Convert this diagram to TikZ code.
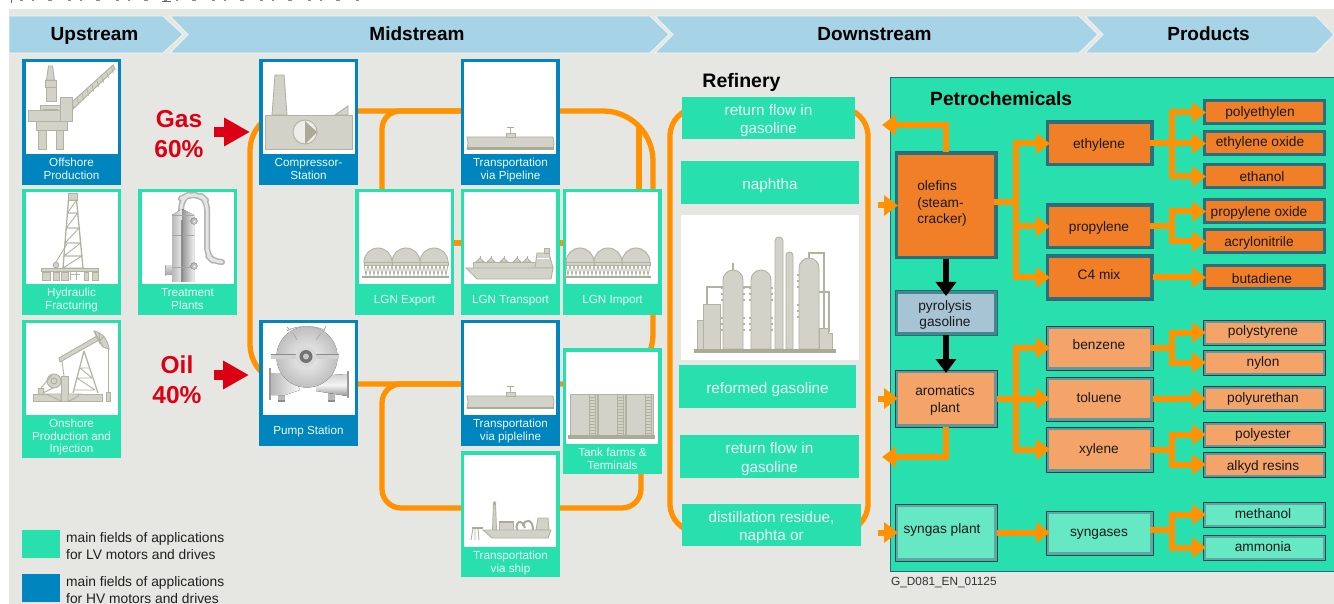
\documentclass[tikz,border=0pt]{standalone}
\usepackage{fontspec}
\setmainfont{Liberation Sans}
\usetikzlibrary{arrows.meta,calc}
\pgfdeclarelayer{bglayer}
\pgfdeclarelayer{pipes}
\pgfsetlayers{bglayer,pipes,main}
\definecolor{bgc}{HTML}{E6E7E2}
\definecolor{hdr}{HTML}{A6D4E6}
\definecolor{hdredge}{HTML}{F2F5F3}
\definecolor{lv}{HTML}{28DFAE}
\definecolor{hv}{HTML}{0085BF}
\definecolor{pipec}{HTML}{FF9200}
\definecolor{redc}{HTML}{DC0014}
\definecolor{labelc}{HTML}{EAFBF7}
\definecolor{iconf}{HTML}{D2D2C8}
\definecolor{iconl}{HTML}{B2B2A0}
\definecolor{iconb}{HTML}{AAAA96}
\definecolor{fillO}{HTML}{F07F28}\definecolor{bandO}{HTML}{2A7080}\definecolor{edgeO}{HTML}{2A6A7A}
\definecolor{fillL}{HTML}{F4A468}\definecolor{bandL}{HTML}{5C9AA0}\definecolor{edgeL}{HTML}{23404A}
\definecolor{fillB}{HTML}{A6C4D4}\definecolor{bandB}{HTML}{3E8A8E}\definecolor{edgeB}{HTML}{2A6A7A}
\definecolor{fillT}{HTML}{66E8C4}\definecolor{bandT}{HTML}{5DA8A0}\definecolor{edgeT}{HTML}{23484F}
\tikzset{
  rectnode/.style={rectangle,inner sep=0pt,outer sep=0pt,anchor=north west},
  tilelabel/.style={text=labelc,align=center,inner sep=0pt,font=\fontsize{11.7}{12}\selectfont},
  reflabel/.style={text=labelc,align=center,inner sep=0pt,font=\fontsize{15.3}{18.5}\selectfont},
  ptext/.style={text=black!90,align=center,inner sep=0pt,font=\fontsize{13.7}{16.5}\selectfont},
  hdrtext/.style={font=\fontsize{19}{22}\bfseries\selectfont,text=black,inner sep=0pt,anchor=base},
  band/.style={fill=hdr,draw=hdredge,line width=.8pt},
  bigred/.style={text=redc,align=center,inner sep=0pt,font=\fontsize{24.5}{30}\bfseries\selectfont},
  legendtext/.style={text=black!88,align=left,anchor=west,inner sep=0pt,font=\fontsize{13.8}{17}\selectfont},
  pipe/.style={draw=pipec,line width=5.3pt},
  stem/.style={draw=pipec,line width=6pt,line cap=rect},
  flow/.style={draw=pipec,line width=6pt,-{Triangle[length=14pt,width=20pt]}},
  blackflow/.style={draw=black,line width=6pt,-{Triangle[length=14pt,width=20pt]}},
  redarrow/.style={draw=redc,line width=10pt,-{Triangle[length=26pt,width=27pt]}},
  icon/.style={fill=iconf,draw=iconl,line width=.9pt},
  iconthin/.style={draw=iconl,line width=.9pt},
  icondark/.style={fill=iconb,draw=none},
}
\newcommand\tile[8]{% name,x1,y1,y2,colour,whitex,whitey,label
  \node[rectnode,fill=#5,minimum width=99pt,minimum height={(#4-#3)*1pt}] (#1) at (#2,#3) {};
  \fill[white] (#6,#7) rectangle ++(92,92);
  \pgfmathsetmacro\tly{(#7+92+#4)/2+1.5}
  \node[tilelabel] (#1-label) at ({#2+49.5},\tly) {\strut #8\strut};
}
\newcommand\refbox[6]{% name,x1,y1,x2,y2,text
  \node[rectnode,fill=lv,minimum width={(#4-#2)*1pt},minimum height={(#5-#3)*1pt}] (#1) at (#2,#3) {};
  \node[reflabel] (#1-label) at ([yshift=-3pt]#1.center) {\strut #6\strut};
}
\def\pinset{3}
\newcommand\procbox[9]{% name,x1,y1,x2,y2,palette,textx,texty,text
  \node[rectnode,fill=band#6,draw=edge#6,line width=1pt,minimum width={(#4-#2)*1pt},minimum height={(#5-#3)*1pt}] (#1) at (#2,#3) {};
  \fill[fill#6] ({#2+\pinset},{#3+\pinset}) rectangle ({#4-\pinset},{#5-\pinset});
  \node[ptext] (#1-label) at (#7,{#8+1.5}) {\strut #9\strut};
}
\newcommand\domeshape[5][icon]{% style,x1,x2,ytop,ybottom
  \pgfmathsetmacro\dr{((#3)-(#2))/2}
  \pgfmathsetmacro\dm{((#3)+(#2))/2}
  \draw[#1] ({#2},#5) -- ({#2},{#4+\dr}) .. controls ({#2},{#4+.45*\dr}) and ({\dm-.55*\dr},#4) .. (\dm,#4)
     .. controls ({\dm+.55*\dr},#4) and ({#3},{#4+.45*\dr}) .. ({#3},{#4+\dr}) -- ({#3},#5) -- cycle;
}
\newcommand\lngtanks{%
  \foreach \cx in {378,406,434}{
    \domeshape{\cx-14}{\cx+14}{248}{263}
    \draw[icon] ({\cx-14},262) rectangle ({\cx+14},265);
    \foreach \k in {-14,-10,-6,-2,2,6,10}{
      \draw[iconthin,line width=.8pt] ({\cx+\k},265) -- ({\cx+\k+2},275) -- ({\cx+\k+4},265);
    }
  }
  \draw[iconb,line width=1.3pt] (362,277) -- (449,277);
}
\newcommand\pipelineicon{%
  \draw[icon] (467,137) -- (553,137) -- (554,143) -- (553,149) -- (467,149) -- (468,143) -- cycle;
  \fill[iconb] (467,147.5) rectangle (554,150);
  \draw[icon] (506,133) rectangle (515,137);
  \draw[iconthin] (510.5,128) -- (510.5,133);
  \draw[iconb,line width=1.2pt] (507,127.5) -- (514,127.5);
}
\begin{document}
\begin{tikzpicture}[x=1pt,y=-1pt]
\useasboundingbox (0,0) rectangle (1334,604);
\begin{pgfonlayer}{bglayer}
  \fill[white] (0,0) rectangle (1334,604);
  \fill[bgc] (9,9) rectangle (1334,604);
  % cropped line of text at the very top
  \draw[black!45,line width=1pt,dash pattern=on 3pt off 9pt on 2pt off 14pt on 4pt off 16pt] (20,.5) -- (362,.5);
  \draw[black!60,line width=1pt] (11.5,0) -- (11.5,3);
  \draw[black!60,line width=1pt] (162,2) -- (171,2);
\end{pgfonlayer}
% ---- header
\draw[band] (9,16) -- (163,16) -- (183,34.5) -- (163,53) -- (9,53) -- cycle;
\draw[band] (170,16) -- (650,16) -- (669,34.5) -- (650,53) -- (170,53) -- (188,34.5) -- cycle;
\draw[band] (655,16) -- (1079,16) -- (1098,34.5) -- (1079,53) -- (655,53) -- (673,34.5) -- cycle;
\draw[band] (1085,16) -- (1316,16) -- (1334,34.5) -- (1316,53) -- (1085,53) -- (1103,34.5) -- cycle;
\node[hdrtext] (hup) at (94.5,40.5) {Upstream};
\node[hdrtext] (hmid) at (417,40.5) {Midstream};
\node[hdrtext] (hdown) at (874.5,40.5) {Downstream};
\node[hdrtext] (hprod) at (1208.5,40.5) {Products};
% ---- tiles
\tile{off}{22}{59}{185}{hv}{26}{62}{Offshore\\Production}
\tile{hyd}{22}{189}{315}{lv}{26}{192}{Hydraulic\\Fracturing}
\tile{ons}{22}{320}{458}{lv}{26}{323}{Onshore\\Production and\\Injection}
\tile{tre}{138}{189}{315}{lv}{142}{192}{Treatment\\Plants}
\tile{comp}{259}{59}{185}{hv}{263}{62}{Compressor-\\Station}
\tile{pump}{259}{320}{446}{hv}{263}{323}{Pump Station}
\tile{expo}{355}{189}{315}{lv}{359}{192}{LGN Export}
\tile{tvp}{461}{59}{185}{hv}{464}{62}{Transportation\\via Pipeline}
\tile{ltr}{461}{189}{315}{lv}{464}{192}{LGN Transport}
\tile{impo}{563}{189}{315}{lv}{566}{192}{LGN Import}
\tile{tvl}{461}{320}{446}{hv}{464}{323}{Transportation\\via pipleline}
\tile{tank}{563}{348}{474}{lv}{566}{352}{Tank farms \&\\Terminals}
\tile{ship}{461}{451}{577}{lv}{464}{455}{Transportation\\via ship}
% ---- pipes behind the tiles
\begin{pgfonlayer}{pipes}
  \draw[pipe,rounded corners=40pt] (comp.center |- 0,111) -- (250,111) -- (250,384) -- (pump.center |- 0,384);
  \draw[pipe,rounded corners=50pt] (comp.center |- 0,111) -- (653,111) -- (653,384) -- (pump.center |- 0,384);
  \draw[pipe,rounded corners=18pt] (382,0 |- expo.north) -- (382,111) -- (tvp.center |- 0,111);
  \draw[pipe] (639,0 |- impo.north) -- (639,126);
  \draw[pipe,rounded corners=19pt] (tvl.center |- 0,384) -- (382,384) -- (382,508) -- (641,508) -- (641,0 |- tank.south);
  \draw[pipe] (expo.center |- 0,243) -- (impo.center |- 0,243);
  \node[rectnode,draw=pipec,line width=5.3pt,rounded corners=28pt,minimum width=198pt,minimum height=424pt] (refloop) at (670,108) {};
\end{pgfonlayer}
% ---- offshore icon
\draw[icon] (48.5,66) -- (52.5,66) -- (54.5,80) -- (46.5,80) -- cycle;
\draw[icon] (45.5,80) rectangle (56,87);
\draw[icon] (46.5,87) rectangle (56,101);
\draw[icon] (72,102) -- (113,65) -- (115,69) -- (72,110) -- cycle;
\foreach \t in {0,.12,...,1}{\draw[iconl,line width=.7pt] ({72+41*\t},{102-37*\t}) -- ({74+41*\t},{109-37*\t});}
\draw[icon] (40,105) rectangle (60,111);
\draw[icon] (28,110) rectangle (60,121);
\draw[icon] (60,97) rectangle (72,121);
\draw[iconl,line width=1pt] (43,110) -- (58,110);
\draw[icon] (36,121) rectangle (67,130);
\draw[icon] (38,130) rectangle (46,149);
\draw[icon] (56,130) rectangle (63.5,149);
% ---- hydraulic icon
\draw[icon] (68,193) rectangle (77,200);
\draw[iconthin,line width=1.3pt] (68.5,200) -- (63,268) (76.5,200) -- (83,268);
\foreach \ya/\yb in {200/213,213/228,228/243,243/256,256/268}{
  \pgfmathsetmacro\fa{(\ya-200)/68*5.5}\pgfmathsetmacro\fb{(\yb-200)/68*5.5}
  \pgfmathsetmacro\ga{(\ya-200)/68*6.5}\pgfmathsetmacro\gb{(\yb-200)/68*6.5}
  \draw[iconthin] ({68.5-\fa},\ya) -- ({76.5+\ga},\ya) -- ({68.5-\fb},\yb) -- ({76.5+\gb},\yb);
}
\draw[iconthin] (56,262) -- (67,244);
\draw[icon] (56,265) circle[radius=2.8];
\draw[icon] (41,268) rectangle (98,271);
\foreach \xa/\xb in {42/50,53/59,61/68,84/88,92/98}{\draw[icon] (\xa,272) rectangle (\xb,280);}
\draw[iconthin] (70,272) -- (70,280) (76,272) -- (76,280) (70,274) -- (80,274);
% ---- onshore icon
\draw[icon] (33,394) rectangle (102,401);
\draw[iconthin,line width=1.2pt] (84,351) -- (73,393) (84,351) -- (98,393);
\draw[iconthin] (80,368) -- (89,368) (77,378) -- (92,378) (80,368) -- (92,378) (77,378) -- (95,390) (74,390) -- (95,390);
\draw[icon] (59,358) -- (97,336) -- (99,340) -- (60,362) -- cycle;
\draw[icon] (94,331) .. controls (103,333) and (108,340) .. (109,349) -- (103,347) -- (98,340) -- cycle;
\draw[iconthin] (94,331) -- (103,347) (99,332) -- (100,344) (104,336) -- (99,342);
\draw[iconthin] (108.5,348) -- (108.5,392);
\draw[icon] (106.5,392) rectangle (110.5,401);
\draw[iconthin] (62,361) -- (64,376);
\draw[icon] (61,376) rectangle (68,401);
\draw[icon] (54,381) circle[radius=7];
\draw[iconthin] (54,381) circle[radius=3];
\draw[iconthin] (41,388) -- (52,375) (43,393) -- (53,388);
\draw[icon] (38,388) rectangle (43,394);
\draw[icon] (45,394) .. controls (52,396) and (58,400) .. (61,401) -- (61,394) -- cycle;
\draw[icon] (68,394) -- (80,394) .. controls (76,398) and (72,400) .. (68,401) -- cycle;
% ---- treatment icon
\draw[black!30,line width=6pt,line join=round,rounded corners=8pt] (181,212) -- (182,198) -- (188,195) -- (200,195) -- (207,201) -- (207,255) -- (214,262) -- (221,262);
\draw[black!10,line width=3pt,line join=round,rounded corners=8pt] (181,212) -- (182,198) -- (188,195) -- (200,195) -- (207,201) -- (207,255) -- (214,262) -- (221,262);
\fill[left color=black!28,right color=black!8] (172,215) -- (182,209) -- (182,282) -- (172,282) -- cycle;
\fill[left color=black!42,right color=black!6] (182,209) -- (194,215) -- (194,282) -- (182,282) -- cycle;
\draw[black!35,line width=.6pt] (172,215) -- (194,215) (172,235) -- (194,235);
\draw[black!45,line width=1.2pt] (182,220) -- (182,282);
\fill[top color=black!15,bottom color=black!35] (165,266) rectangle (172,275);
\draw[black!35,line width=.8pt] (165,265) -- (165,276);
\draw[black!35,line width=.6pt] (172,267) -- (194,267);
\fill[inner color=black!10,outer color=black!35] (194,221) circle[radius=3.4];
\fill[inner color=black!10,outer color=black!35] (194,266) circle[radius=3.4];
% ---- compressor icon
\draw[icon] (272,115) -- (275,75) -- (284,75) -- (287,115) -- cycle;
\draw[icon] (335,115) -- (348,106) -- (348,115) -- cycle;
\draw[icon] (265,115) rectangle (352,149);
\draw[fill=white!60!iconf,draw=iconl,line width=.9pt] (305,132) circle[radius=12];
\fill[iconb] (305,121) -- (317,132) -- (305,144) -- cycle;
% ---- pump icon
\fill[black!28] (278,390) rectangle (285,401);
\fill[black!28] (328,390) rectangle (335,401);
\draw[black!45,line width=1.4pt] (278,401) -- (285,401) (328,401) -- (335,401);
\fill[left color=black!28,right color=black!3] (271,373) -- (292,373) -- (300,390) -- (285,395) -- (271,395) -- cycle;
\draw[black!40,line width=1.5pt] (270,368) -- (270,400);
\fill[top color=black!18,bottom color=black!40,middle color=black!4] (316,376) -- (347,374) -- (347,396) -- (316,391) -- cycle;
\draw[black!40,line width=1.5pt] (348,371) -- (348,398);
\fill[inner color=black!5,outer color=black!25] (307,357) circle[radius=30.5];
\draw[black!32,line width=.9pt] (293,333) -- (297,340) (321,333) -- (316,340);
\draw[black!32,line width=.9pt] (287,331) .. controls (295,325) and (318,325) .. (325,331);
\draw[black!32,line width=.9pt] (290,330) -- (287,327) (324,330) -- (326,326);
\fill[black!18] (271,354) rectangle (339,358.5);
\draw[black!45,line width=.7pt] (271,354) -- (339,354);
\fill[black!15] (306,356.5) circle[radius=10.5];
\fill[black!55] (306,356.5) circle[radius=6.5];
\fill[black!22] (306,356.5) circle[radius=3];
% ---- pipeline icons
\pipelineicon
\begin{scope}[shift={(0,259)}]\pipelineicon\end{scope}
% ---- LNG tanks
\begin{scope}\lngtanks\end{scope}
\begin{scope}[shift={(202,0)}]\lngtanks\end{scope}
% ---- LNG carrier
\draw[icon] (473,262) rectangle (535,268);
\foreach \sx in {480,491,504,517,527}{\draw[icon] ({\sx-4},262) -- (\sx,258) -- ({\sx+4},262) -- cycle; \draw[iconthin] (\sx,258) -- (\sx,256);}
\draw[icon] (535,268) -- (537,253) -- (549,253) -- (553,268) -- cycle;
\draw[white,line width=.8pt] (537,258) -- (549,258);
\draw[icon] (544,248) rectangle (549,253);
\draw[icon] (466,268) -- (553,268) -- (551,279) -- (477,279) -- cycle;
% ---- tank farm
\foreach \tx in {570,598,626}{
  \draw[icon] (\tx,394) rectangle ({\tx+27},435);
  \draw[iconthin,line width=.6pt] ({\tx+19},394) -- ({\tx+19},435) ({\tx+25},394) -- ({\tx+25},435);
  \foreach \ry in {397,400,...,433}{\draw[iconthin,line width=.5pt] ({\tx+19},\ry) -- ({\tx+25},\ry);}
}
\fill[iconb] (568,435) rectangle (655,439);
% ---- drill ship
\draw[icon] (492.5,530) -- (493.5,504) -- (495.5,504) -- (496.5,530) -- cycle;
\fill[iconb] (494.5,503) circle[radius=1.8];
\draw[icon] (499,521) rectangle (513,530);
\fill[iconb] (499,521) rectangle (513,523);
\draw[iconb,line width=2pt] (517,530) .. controls (515,520) and (522,519) .. (525,528) (523,526) .. controls (525,518) and (533,519) .. (533,530);
\draw[icon] (536,530) -- (538,518) -- (548,518) -- (549,530) -- cycle;
\draw[icon] (483,530) -- (551,530) -- (548,538) -- (492,538) -- cycle;
\draw[iconb,line width=1.4pt] (472,528) -- (483,528);
\draw[iconthin] (473,528) -- (471,540) (478,528) -- (479,540) (475,528) -- (475,540);
% ---- gas/oil
\node[bigred] (gas) at (179,134.5) {Gas\\60\%};
\node[bigred] (oil) at (177,379.5) {Oil\\40\%};
\coordinate (gastail) at (214,132);
\coordinate (oiltail) at (214,375);
\draw[redarrow] (gastail) -- ([xshift=-9pt]comp.west |- gastail);
\draw[redarrow] (oiltail) -- ([xshift=-10pt]pump.west |- oiltail);
% ---- legend
\node[rectnode,fill=lv,minimum width=38pt,minimum height=28pt] (legLV) at (22,530) {};
\node[rectnode,fill=hv,minimum width=38pt,minimum height=28pt] (legHV) at (22,574) {};
\node[legendtext] (legLVt) at (66,546) {main fields of applications\\for LV motors and drives};
\node[legendtext] (legHVt) at (66,590) {main fields of applications\\for HV motors and drives};
% ---- refinery
\node[font=\fontsize{19.5}{24}\bfseries\selectfont,inner sep=0pt,anchor=base] (refi) at (741.5,87.5) {Refinery};
\refbox{rf1}{682}{97}{855}{139}{return flow in\\gasoline}
\refbox{rf2}{681}{161}{859}{204}{naphtha}
\fill[white] (681,215) rectangle (859,360);
\refbox{rf3}{679}{365}{856}{408}{reformed gasoline}
\refbox{rf4}{680}{435}{859}{478}{return flow in\\gasoline}
\refbox{rf5}{682}{504}{861}{546}{distillation residue,\\naphta or}
% refinery icon
\draw[iconthin,line width=1.4pt] (707,304) -- (707,287) -- (723,287);
\draw[icon] (697,320) rectangle (704,349);
\draw[icon] (703,304) rectangle (720,349);
\draw[iconthin,line width=1.4pt] (733,263) -- (733,272);
\domeshape{723}{743}{270}{349}
\domeshape{751}{771}{270}{349}
\draw[iconthin,line width=1.4pt] (743,287) -- (751,287);
\foreach \fy in {288,294,300,318,324,330}{\draw[iconl,line width=1.6pt] (721,\fy) -- (723,\fy) (743,\fy) -- (745,\fy) (749,\fy) -- (751,\fy) (771,\fy) -- (773,\fy);}
\domeshape{775}{783}{237}{349}
\domeshape{786}{793}{252}{349}
\draw[iconthin,line width=1.4pt] (809,258) -- (809,253) -- (824,253) -- (824,328);
\draw[iconthin,line width=1.4pt] (819,292) -- (829,292) -- (829,332);
\domeshape{799}{819}{258}{349}
\foreach \fy in {275,281,287,305,311,317}{\draw[iconl,line width=1.6pt] (797,\fy) -- (799,\fy);}
\draw[icon] (819,328) -- (828,328) -- (828,333) -- (832,333) -- (832,349) -- (819,349) -- cycle;
\fill[iconb] (694,349) rectangle (836,353);
% ---- petrochemicals panel
\node[rectnode,fill=lv,draw=edgeO,line width=1pt,minimum width=446pt,minimum height=493pt] (panel) at (890,78) {};
\node[font=\fontsize{19.2}{22}\bfseries\selectfont,inner sep=0pt,anchor=base west] (petro) at (930,106) {Petrochemicals};
\def\pinset{3}
\procbox{olef}{895}{152}{997}{259}{O}{942}{202.5}{\begin{tabular}{@{}l@{}}olefins\\(steam-\\cracker)\end{tabular}}
\procbox{pyro}{895}{291}{997}{335}{B}{945}{313.5}{pyrolysis\\gasoline}
\procbox{arom}{895}{370}{997}{427}{L}{945}{399}{aromatics\\plant}
\procbox{syng}{895}{504}{997}{561}{T}{942}{528.5}{syngas plant}
\procbox{eth}{1046}{121}{1153}{166}{O}{1099}{144}{ethylene}
\procbox{prop}{1046}{204}{1153}{249}{O}{1099}{227}{propylene}
\procbox{cfour}{1046}{255}{1153}{300}{O}{1099}{275}{C4 mix}
\procbox{benz}{1046}{326}{1153}{370}{L}{1099}{345}{benzene}
\procbox{tol}{1046}{377}{1153}{421}{L}{1099}{398}{toluene}
\procbox{xyl}{1046}{427}{1153}{472}{L}{1099}{449}{xylene}
\procbox{syn}{1046}{511}{1153}{555}{T}{1099}{532}{syngases}
\def\pinset{2.5}
\procbox{pe}{1203}{100}{1325}{125}{O}{1260}{111.5}{polyethylen}
\procbox{eo}{1203}{131}{1325}{156}{O}{1260}{141.5}{ethylene oxide}
\procbox{eol}{1203}{164}{1325}{189}{O}{1262}{176.5}{ethanol}
\procbox{po}{1203}{199}{1325}{224}{O}{1259}{211.5}{propylene oxide}
\procbox{acr}{1203}{229}{1325}{254}{O}{1259}{241.5}{acrylonitrile}
\procbox{bu}{1203}{265}{1325}{290}{O}{1262}{278.5}{butadiene}
\procbox{pst}{1203}{320}{1325}{345}{L}{1263}{331}{polystyrene}
\procbox{nyl}{1203}{350}{1325}{375}{L}{1263}{361.5}{nylon}
\procbox{pur}{1203}{386}{1325}{411}{L}{1263}{397.5}{polyurethan}
\procbox{pes}{1203}{422}{1325}{447}{L}{1263}{433.5}{polyester}
\procbox{alk}{1203}{452}{1325}{477}{L}{1263}{465.5}{alkyd resins}
\procbox{met}{1203}{502}{1325}{527}{T}{1263}{513.5}{methanol}
\procbox{amm}{1203}{535}{1325}{560}{T}{1263}{546.5}{ammonia}
\node[anchor=west,inner sep=0pt,text=black!80,font=\fontsize{11.8}{14}\selectfont] (gcode) at (891,583) {G\_D081\_EN\_01125};
% ---- connectors
\coordinate (tA) at (1016,0);
\coordinate (tB) at (1172,0);
% olefins trunk
\draw[stem] ([yshift=3.5pt]olef.east) -- ([yshift=3.5pt]olef.east -| tA);
\draw[stem] (eth.west -| tA) -- (cfour.west -| tA);
\draw[flow] (eth.west -| tA) -- ([xshift=4pt]eth.west);
\draw[flow] (prop.west -| tA) -- ([xshift=4pt]prop.west);
\draw[flow] (cfour.west -| tA) -- ([xshift=4pt]cfour.west);
% ethylene
\draw[stem] (eth.east) -- (eth.east -| tB);
\draw[stem] (pe.west -| tB) -- (eol.west -| tB);
\draw[flow] (pe.west -| tB) -- ([xshift=3pt]pe.west);
\draw[flow] (eo.west -| tB) -- ([xshift=3pt]eo.west);
\draw[flow] (eol.west -| tB) -- ([xshift=3pt]eol.west);
% propylene
\draw[stem] (prop.east) -- (prop.east -| tB);
\draw[stem] (po.west -| tB) -- (acr.west -| tB);
\draw[flow] (po.west -| tB) -- ([xshift=3pt]po.west);
\draw[flow] (acr.west -| tB) -- ([xshift=3pt]acr.west);
% C4
\draw[flow] (cfour.east) -- ([xshift=3pt]bu.west);
% aromatics trunk
\draw[stem] (benz.west -| tA) -- (xyl.west -| tA);
\draw[flow] (benz.west -| tA) -- ([xshift=4pt]benz.west);
\draw[flow] (arom.east) -- ([xshift=4pt]tol.west |- arom.east);
\draw[flow] (xyl.west -| tA) -- ([xshift=4pt]xyl.west);
% benzene
\draw[stem] (benz.east) -- (benz.east -| tB);
\draw[stem] (pst.west -| tB) -- (nyl.west -| tB);
\draw[flow] (pst.west -| tB) -- ([xshift=3pt]pst.west);
\draw[flow] (nyl.west -| tB) -- ([xshift=3pt]nyl.west);
% toluene
\draw[flow] (tol.east) -- ([xshift=3pt]pur.west);
% xylene
\draw[stem] (xyl.east) -- (xyl.east -| tB);
\draw[stem] (pes.west -| tB) -- (alk.west -| tB);
\draw[flow] (pes.west -| tB) -- ([xshift=3pt]pes.west);
\draw[flow] (alk.west -| tB) -- ([xshift=3pt]alk.west);
% syngas
\draw[flow] (syng.east) -- ([xshift=4pt]syn.west |- syng.east);
\draw[stem] ([yshift=3pt]syn.east) -- ([yshift=3pt]syn.east -| tB);
\draw[stem] (met.west -| tB) -- (amm.west -| tB);
\draw[flow] (met.west -| tB) -- ([xshift=3pt]met.west);
\draw[flow] (amm.west -| tB) -- ([xshift=3pt]amm.west);
% refinery links
\coordinate (inA) at (878,0);
\draw[flow] (olef.west -| inA) -- ([xshift=3pt]olef.west);
\draw[flow] (arom.west -| inA) -- ([xshift=3pt]arom.west);
\draw[flow] (syng.west -| inA) -- ([xshift=3pt]syng.west);
\coordinate (outO) at (882,125);
\coordinate (outA) at (882,457);
\draw[flow] (olef.north) |- (outO);
\draw[flow] (arom.south) |- (outA);
% black
\draw[blackflow] (olef.south) -- ([yshift=-5pt]pyro.north);
\draw[blackflow] (pyro.south) -- ([yshift=-3pt]arom.north);
\end{tikzpicture}
\end{document}
